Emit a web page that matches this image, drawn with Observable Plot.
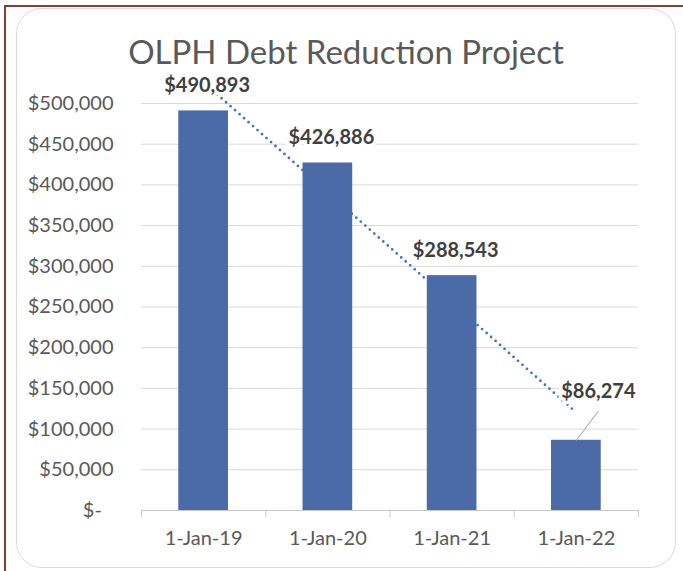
<!DOCTYPE html>
<html><head><meta charset="utf-8">
<script src="https://cdn.jsdelivr.net/npm/d3@7"></script>
<script src="https://cdn.jsdelivr.net/npm/@observablehq/plot@0.6"></script>
<style>
html,body{margin:0;padding:0;background:#fff;}
#page{position:relative;width:683px;height:571px;overflow:hidden;background:#fff;font-family:Lato,"Open Sans",sans-serif;}
#bt{position:absolute;left:4px;top:5px;right:0;height:2px;background:#8b3a36;}
#bl{position:absolute;left:4px;top:5px;bottom:0;width:2px;background:#8b3a36;}
#panel{position:absolute;left:16px;top:8px;width:660px;height:560px;border:1.5px solid #d9d9d9;border-radius:26px;box-sizing:border-box;}
#title{position:absolute;left:16px;width:660px;top:35px;text-align:center;font-size:33px;color:#595959;line-height:1;white-space:nowrap;}
#chart{position:absolute;left:0;top:75px;}
</style></head>
<body><div id="page"><div id="bt"></div><div id="bl"></div><div id="panel"></div><div id="title">OLPH Debt Reduction Project</div><div id="chart"></div></div>
<script>
// ---- data ----
const categories = ["1-Jan-19", "1-Jan-20", "1-Jan-21", "1-Jan-22"];
const debt = [490893, 426886, 288543, 86274];
const yTicks = [0, 50000, 100000, 150000, 200000, 250000, 300000, 350000, 400000, 450000, 500000];

// ---- layout ----
const W = 683, H = 496, ML = 141, MR = 45, MT = 28, MB = 61;
const step = (W - ML - MR) / categories.length;

// linear trendline (least squares over category index)
const xs = debt.map((_, i) => i + 1);
const mx = d3.mean(xs), my = d3.mean(debt);
const slope = d3.sum(xs, (x, i) => (x - mx) * (debt[i] - my)) / d3.sum(xs, x => (x - mx) ** 2);
const trend = xs.map(x => my + slope * (x - mx));

const money = d3.format("$,.0f");
const rows = categories.map((c, i) => ({date: c, value: debt[i], trend: trend[i], label: money(debt[i])}));

const tickFmt = v => v === 0 ? "$-\u2007" : money(v);
const labelStyle = {fontSize: 20, fontWeight: "bold", fill: "#404040", stroke: "white", strokeWidth: 7, paintOrder: "stroke", fontFamily: "Lato, sans-serif"};
const leader = {draw(context, l) { context.moveTo(0, 0); context.lineTo(0, -l); }};

const chart = Plot.plot({
  width: W, height: H, marginLeft: ML, marginRight: MR, marginTop: MT, marginBottom: MB,
  style: {fontFamily: "Lato, sans-serif", background: "transparent", overflow: "visible"},
  x: {type: "band", domain: categories, paddingInner: 0.6, paddingOuter: 0.3, round: false, label: null},
  y: {domain: [0, 500000], label: null},
  marks: [
    Plot.ruleY(yTicks.filter(t => t > 0), {stroke: "#d9d9d9", strokeWidth: 1}),
    Plot.line(rows, {x: "date", y: "trend", stroke: "#4472c4", strokeWidth: 2.8, strokeDasharray: "0 6", strokeLinecap: "round"}),
    Plot.barY(rows, {x: "date", y: "value", fill: "#4a6aa8"}),
    Plot.ruleY([0], {stroke: "#c8c8c8"}),
    Plot.ruleX(rows, {x: "date", y1: 0, y2: 0, insetBottom: -7, dx: -step / 2, stroke: "#c8c8c8"}),
    Plot.ruleX(rows.slice(-1), {x: "date", y1: 0, y2: 0, insetBottom: -7, dx: step / 2, stroke: "#c8c8c8"}),
    Plot.vector(rows.slice(-1), {x: "date", y: "value", length: 36, rotate: 37, anchor: "start", stroke: "#a6a6a6", strokeWidth: 1, shape: leader}),
    Plot.text(rows.slice(0, 3), {x: "date", y: "value", text: "label", dy: -25, dx: 3.5, ...labelStyle}),
    Plot.text(rows.slice(3), {x: "date", y: "value", text: "label", dy: -49, dx: 22, ...labelStyle}),
    Plot.axisY(yTicks, {tickSize: 0, tickPadding: 28, tickFormat: tickFmt, fontSize: 20, fill: "#595959", label: null}),
    Plot.axisX({tickSize: 0, tickPadding: 20, fontSize: 20, fill: "#595959", label: null})
  ]
});
document.getElementById("chart").appendChild(chart);
</script>
</body></html>
